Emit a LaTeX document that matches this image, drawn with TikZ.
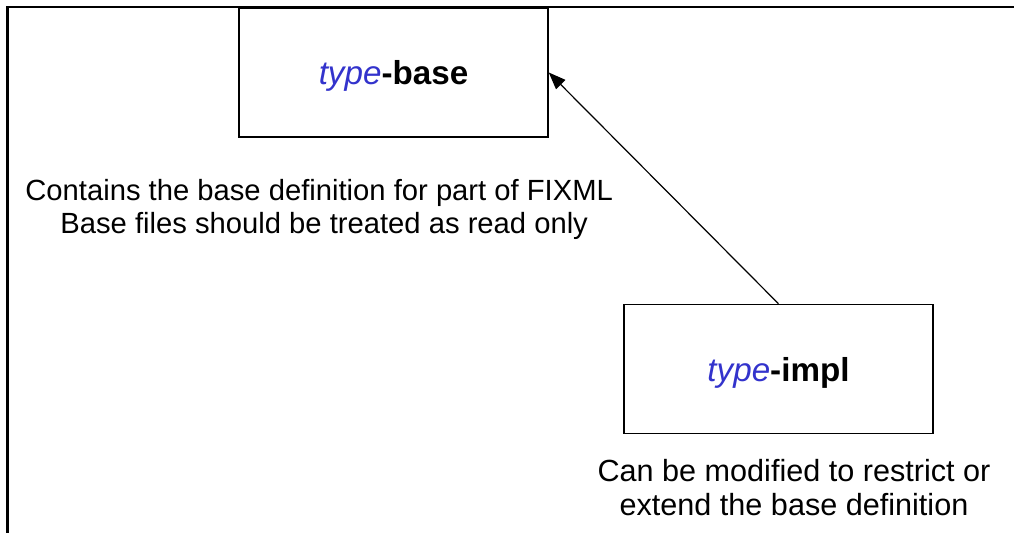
\documentclass[tikz,border=0pt]{standalone}
\usepackage{fontspec}
\setmainfont{Liberation Sans}
\usepackage{xcolor}
\usetikzlibrary{arrows.meta}

\definecolor{typeblue}{RGB}{51,51,204}
\newcommand{\typeword}{\textcolor{typeblue}{\itshape type}}

\tikzset{
  filebox/.style={draw, line width=0.75pt, minimum width=154.5pt, minimum height=64.5pt,
    inner sep=0pt, text height=12.5pt, text depth=0pt, font=\fontsize{16.6}{19}\selectfont},
  note/.style={inner sep=0pt, font=\fontsize{14.6}{16.5}\selectfont},
  derives/.style={-{Triangle[length=8.5pt,width=6.5pt]}, line width=0.6pt}
}

\begin{document}
\begin{tikzpicture}[x=0.5pt,y=-0.5pt]
\useasboundingbox (0,0) rectangle (1014,533);

% frame round the page
\draw[line width=1.1pt] (7.5,533) -- (7.5,7) -- (1014,7);

% the two files
\node[filebox] (base) at (393.5,72.5) {\typeword\textbf{-base}};
\node[filebox] (impl) at (778.5,369) {\typeword\textbf{-impl}};

% notes under each file
\node[note, anchor=base west] (basenote1) at (25,201) {Contains the base definition for part of FIXML};
\node[note, anchor=base west] (basenote2) at (60,234) {Base files should be treated as read only};
\node[note, anchor=base, font=\fontsize{15.3}{17}\selectfont] (implnote1) at (794,482) {Can be modified to restrict or};
\node[note, anchor=base, font=\fontsize{15.3}{17}\selectfont] (implnote2) at (794,516) {extend the base definition};

% impl extends base
\draw[derives] (impl.north) -- (base.east);
\end{tikzpicture}
\end{document}
